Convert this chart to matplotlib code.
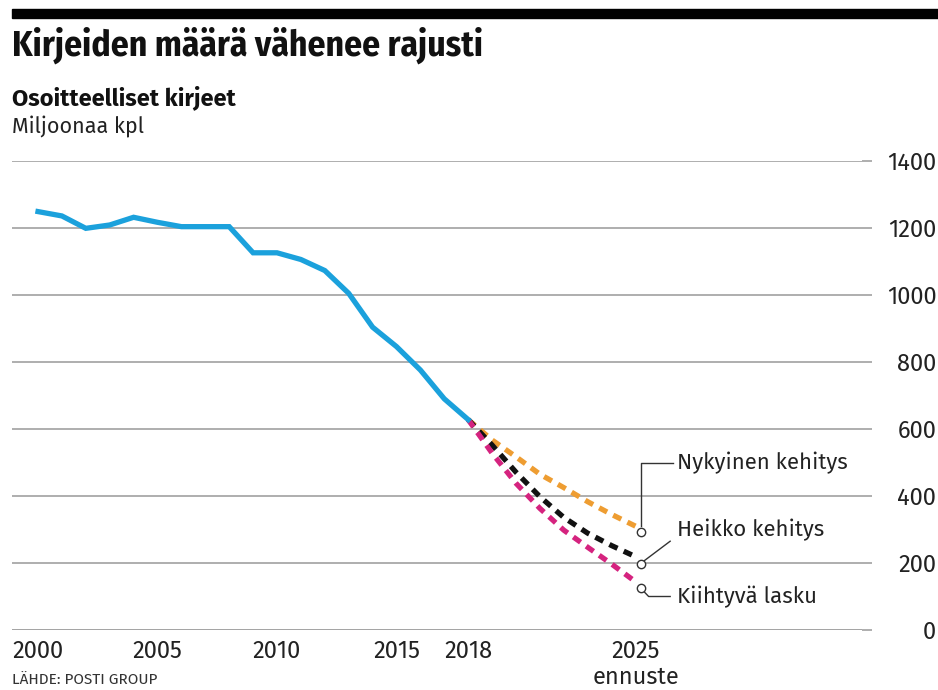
import matplotlib
matplotlib.use("Agg")
import matplotlib.pyplot as plt

plt.rcParams["font.family"] = ["Fira Sans", "DejaVu Sans"]
TITLE_FONT = ["Fira Sans Condensed", "DejaVu Sans"]

# toteutunut
years = list(range(2000, 2019))
letters = [1249, 1236, 1199, 1209, 1232, 1217, 1204, 1204, 1204, 1126,
           1126, 1106, 1073, 1005, 904, 846, 776, 690, 628]

# ennusteet 2018-2025
fc_years = list(range(2018, 2026))
current = [628, 567, 517, 465, 425, 383, 345, 310]
weak = [628, 552, 471, 398, 336, 289, 252, 219]
accel = [628, 528, 438, 363, 298, 247, 197, 144]

scenario_names = ["Nykyinen kehitys", "Heikko kehitys", "Kiihtyvä lasku"]
scenario_end = [293, 197, 125]

xticks = [2000, 2005, 2010, 2015, 2018, 2025]
xticklabels = ["2000", "2005", "2010", "2015", "2018", "2025\nennuste"]
yticks = [0, 200, 400, 600, 800, 1000, 1200, 1400]

fig = plt.figure(figsize=(9.38, 6.9), dpi=100)
ax = fig.add_axes([12 / 938, 1 - 630 / 690, 850 / 938, 469 / 690])

for y in yticks:
    ax.axhline(y, color="#a8a8a8" if y else "#888888", lw=1.3 if y else 1.8, zorder=1)

ax.plot(years, letters, color="#1ba1dc", lw=3.8, solid_joinstyle="miter", zorder=3)

dash = (0, (1.7, 1.3))
ax.plot(fc_years, current, color="#ee9d32", lw=3.8, linestyle=dash, zorder=2)
ax.plot(fc_years, weak, color="#111111", lw=3.8, linestyle=dash, zorder=2)
ax.plot(fc_years, accel, color="#d5237f", lw=3.8, linestyle=dash, zorder=2)

# selitteet
cx = 2025.25
lc = "#333333"
ax.plot([cx] * 3, scenario_end, "o", ms=6, mfc="white", mec=lc, mew=1, zorder=4)
ax.plot([cx, cx, cx + 1.3], [scenario_end[0] + 18, 500, 500], color=lc, lw=1, zorder=3)
ax.plot([cx + 0.12, cx + 1.2], [scenario_end[1] + 10, 265], color=lc, lw=1, zorder=3)
ax.plot([cx + 0.1, cx + 0.3, cx + 1.2], [scenario_end[2] - 10, 100, 100], color=lc, lw=1, zorder=3)
ax.text(cx + 1.5, 500, scenario_names[0], fontsize=16, va="center", color="#222222")
ax.text(cx + 1.5, 300, scenario_names[1], fontsize=16, va="center", color="#222222")
ax.text(cx + 1.5, 100, scenario_names[2], fontsize=16, va="center", color="#222222")

ax.set_xlim(2000 - 26 / 23.9, 2000 + 850 / 23.9 - 26 / 23.9)
ax.set_ylim(0, 1400)
ax.set_xticks(xticks)
ax.set_xticklabels(xticklabels, fontsize=17, color="#222222", linespacing=1.15, va="top")
ax.set_yticks(yticks)
ax.yaxis.tick_right()
ax.set_yticklabels([str(v) for v in yticks], fontsize=17, color="#222222")
for lab in ax.get_yticklabels():
    lab.set_horizontalalignment("right")
ax.tick_params(axis="y", length=7.5, width=1.3, color="#a8a8a8", pad=46)
ax.tick_params(axis="x", length=0, pad=7)
for s in ax.spines.values():
    s.set_visible(False)
ax.patch.set_visible(False)

# otsikot
fig.patches.append(plt.Rectangle((12 / 938, 1 - 18 / 690), 1, 9 / 690,
                                 transform=fig.transFigure, color="black"))
fig.text(12 / 938, 1 - 45 / 690, "Kirjeiden määrä vähenee rajusti", family=TITLE_FONT,
         fontsize=25.5, fontweight="bold", va="center", color="#111111")
fig.text(12 / 938, 1 - 98 / 690, "Osoitteelliset kirjeet",
         fontsize=17, fontweight="bold", va="center", color="#111111")
fig.text(12 / 938, 1 - 126 / 690, "Miljoonaa kpl",
         fontsize=15.5, va="center", color="#222222")
fig.text(12 / 938, 1 - 680 / 690, "LÄHDE: POSTI GROUP",
         fontsize=11, va="center", color="#333333")

fig.savefig("out.png", dpi=100)
